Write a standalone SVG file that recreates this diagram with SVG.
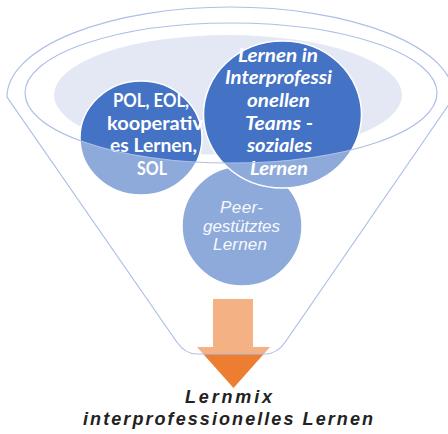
<svg xmlns="http://www.w3.org/2000/svg" width="448" height="434" viewBox="0 0 448 434">
<style>
.line{fill:none;stroke:#AEBFE6;stroke-width:1.2}
.blob{fill:#4472C4;stroke:#FFFFFF;stroke-width:1.5}
.bold{font-family:Lato,"Liberation Sans",sans-serif;font-weight:700;font-size:18px;fill:#FFFFFF}
.bi{font-family:Lato,"Liberation Sans",sans-serif;font-weight:700;font-style:italic;font-size:18px;fill:#FFFFFF}
.peer{font-family:"Liberation Sans",Arial,sans-serif;font-style:italic;font-size:17px;fill:#F2F5FB}
.cap{font-family:"Liberation Sans",Arial,sans-serif;font-style:italic;font-weight:700;font-size:18px;fill:#222222}
</style>
<rect width="448" height="434" fill="#FFFFFF"/>
<g id="funnel-back">
<ellipse cx="228" cy="95" rx="174" ry="60" fill="#E4E8F4"/>
</g>
<g id="node-peer">
<circle cx="242" cy="226" r="60" class="blob"/>
<text class="peer" x="220" y="213" textLength="43" lengthAdjust="spacing">Peer-</text>
<text class="peer" x="203" y="232" textLength="77" lengthAdjust="spacing">gestütztes</text>
<text class="peer" x="213" y="250" textLength="54" lengthAdjust="spacing">Lernen</text>
</g>
<g id="node-pol">
<ellipse cx="141" cy="138" rx="61" ry="57" class="blob"/>
<text class="bold" x="113" y="107" textLength="76" lengthAdjust="spacingAndGlyphs">POL, EOL,</text>
<text class="bold" x="107" y="129.6" textLength="96" lengthAdjust="spacingAndGlyphs">kooperativ</text>
<text class="bold" x="110" y="152.3" textLength="87" lengthAdjust="spacingAndGlyphs">es Lernen,</text>
<text class="bold" x="137" y="175" textLength="30" lengthAdjust="spacingAndGlyphs">SOL</text>
</g>
<g id="node-teams">
<ellipse cx="282.5" cy="114.5" rx="79" ry="73.5" class="blob"/>
<text class="bi" x="238" y="61.5" textLength="80" lengthAdjust="spacingAndGlyphs">Lernen in</text>
<text class="bi" x="225" y="84.2" textLength="107" lengthAdjust="spacingAndGlyphs">Interprofessi</text>
<text class="bi" x="247" y="106.9" textLength="63" lengthAdjust="spacingAndGlyphs">onellen</text>
<text class="bi" x="245" y="129.6" textLength="68" lengthAdjust="spacingAndGlyphs">Teams -</text>
<text class="bi" x="247" y="152.3" textLength="65" lengthAdjust="spacingAndGlyphs">soziales</text>
<text class="bi" x="250" y="175" textLength="58" lengthAdjust="spacingAndGlyphs">Lernen</text>
</g>
<g id="connectors">
<path d="M213 299H253V347H270L233.5 388L197 347H213Z" fill="#ED7D31"/>
</g>
<g id="funnel">
<path fill="#FFFFFF" fill-opacity="0.4" fill-rule="evenodd" d="M7 97A223.5 90 0 0 1 454 97L285.3 342Q277 354 265 354L197 354Q185 354 176.8 342Z M25 93A206 70 0 1 0 437 93A206 70 0 1 0 25 93Z"/>
<path class="line" d="M7 97A223.5 90 0 0 1 454 97L285.3 342Q277 354 265 354L197 354Q185 354 176.8 342Z"/>
<ellipse class="line" cx="231" cy="93" rx="206" ry="70"/>
</g>
<g id="caption">
<text class="cap" x="185" y="403" textLength="87" lengthAdjust="spacing">Lernmix</text>
<text class="cap" x="83" y="425" textLength="290" lengthAdjust="spacing">interprofessionelles Lernen</text>
</g>
</svg>
